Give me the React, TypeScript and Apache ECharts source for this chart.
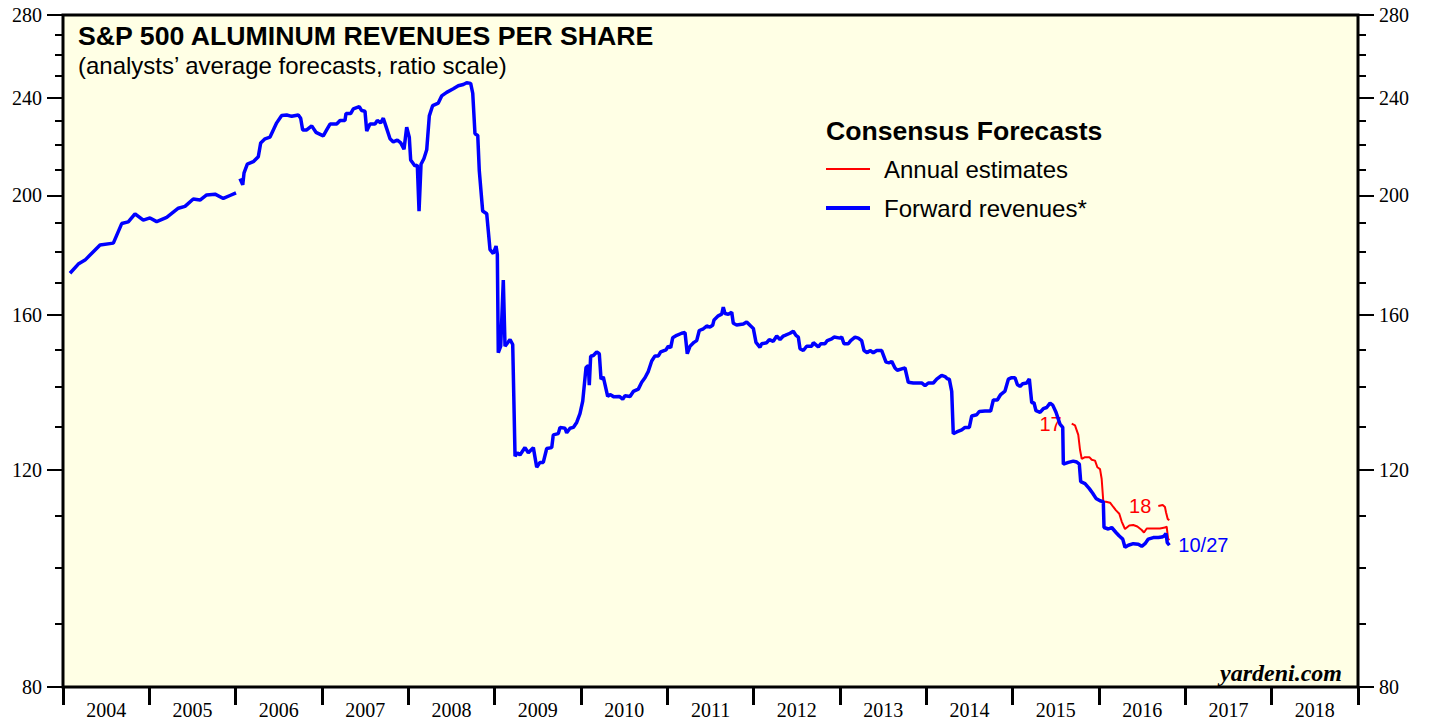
import React, { useEffect, useRef } from "react";
import * as echarts from "echarts";

// ---- axis ticks / labels ----
const YEAR_TICKS = [2004, 2005, 2006, 2007, 2008, 2009, 2010, 2011, 2012, 2013, 2014, 2015, 2016, 2017, 2018, 2019];
const YEAR_LABEL_POS = [2004.5, 2005.5, 2006.5, 2007.5, 2008.5, 2009.5, 2010.5, 2011.5, 2012.5, 2013.5, 2014.5, 2015.5, 2016.5, 2017.5, 2018.5];
const Y_MAJOR = [80, 120, 160, 200, 240, 280];
const Y_MINOR = [90, 100, 110, 130, 140, 150, 170, 180, 190, 210, 220, 230, 250, 260, 270];

// ---- series values: [decimal year, revenues per share] ----
const FORWARD_2004_2005: [number, number][] = [
  [2004.081, 173], [2004.177, 176], [2004.255, 177.3], [2004.429, 182.4], [2004.583, 183], [2004.68, 189.8],
  [2004.756, 190.4], [2004.834, 193.3], [2004.93, 191], [2005.008, 191.8], [2005.085, 190.5], [2005.201, 192],
  [2005.336, 195.3], [2005.413, 196], [2005.509, 198.7], [2005.587, 198.3], [2005.664, 200.2], [2005.761, 200.5],
  [2005.857, 198.9], [2005.934, 200], [2006.004, 201],
];

const FORWARD_2006_2016: [number, number][] = [
  [2006.05, 206.4], [2006.082, 204], [2006.097, 208.6], [2006.135, 212], [2006.204, 213], [2006.262, 215],
  [2006.29, 220.6], [2006.34, 222.3], [2006.398, 223], [2006.436, 226], [2006.475, 229], [2006.533, 232.2],
  [2006.591, 232.4], [2006.649, 231.8], [2006.726, 232.4], [2006.753, 231], [2006.776, 226], [2006.823, 226],
  [2006.881, 227.7], [2006.93, 225], [2007.015, 223.5], [2007.054, 226], [2007.093, 228.5], [2007.17, 228.5],
  [2007.209, 230], [2007.266, 230], [2007.278, 233], [2007.332, 233], [2007.363, 235], [2007.432, 236],
  [2007.46, 234.3], [2007.498, 234], [2007.518, 225.5], [2007.556, 228.5], [2007.614, 228.5], [2007.641, 230],
  [2007.68, 229], [2007.71, 231], [2007.741, 227.5], [2007.788, 222.3], [2007.826, 221], [2007.872, 221.8],
  [2007.912, 220.6], [2007.95, 218], [2007.981, 227.2], [2008.011, 223], [2008.027, 213.7], [2008.077, 211.3],
  [2008.104, 211.7], [2008.124, 194.2], [2008.147, 212], [2008.181, 214.3], [2008.213, 217.8], [2008.243, 232],
  [2008.282, 236.5], [2008.347, 237.6], [2008.386, 240.8], [2008.444, 242.4], [2008.521, 244], [2008.579, 245.4],
  [2008.637, 246], [2008.676, 246.8], [2008.722, 246.5], [2008.746, 242], [2008.772, 224.4], [2008.804, 223.7],
  [2008.822, 209.4], [2008.861, 194.3], [2008.908, 193.3], [2008.946, 180.8], [2008.984, 179.5], [2009.016, 182],
  [2009.031, 179.2], [2009.042, 149.2], [2009.07, 151], [2009.1, 170.8], [2009.12, 151], [2009.178, 152.9],
  [2009.209, 151.5], [2009.236, 123], [2009.262, 123.8], [2009.293, 123.3], [2009.351, 125], [2009.39, 123.8],
  [2009.448, 125], [2009.487, 120.5], [2009.525, 121.6], [2009.563, 121.6], [2009.603, 124.8], [2009.661, 125],
  [2009.679, 128], [2009.737, 128.3], [2009.757, 129.8], [2009.815, 129.6], [2009.834, 128.5], [2009.873, 129.6],
  [2009.911, 129.8], [2009.95, 131], [2009.988, 133.2], [2010.02, 136.3], [2010.058, 145.1], [2010.085, 145.7],
  [2010.096, 140.4], [2010.112, 148.2], [2010.143, 148.4], [2010.182, 149.4], [2010.212, 148.9], [2010.232, 142],
  [2010.258, 142.6], [2010.309, 137.5], [2010.336, 138], [2010.382, 137.4], [2010.444, 137.5], [2010.483, 136.8],
  [2010.51, 137.7], [2010.568, 137.5], [2010.606, 138.8], [2010.664, 139.4], [2010.703, 141.2], [2010.741, 142.4],
  [2010.78, 144.1], [2010.819, 146.9], [2010.857, 148.3], [2010.896, 148.3], [2010.923, 149.4], [2010.985, 150],
  [2011.011, 151], [2011.039, 150.6], [2011.062, 153.4], [2011.109, 154.1], [2011.166, 154.7], [2011.205, 154.9],
  [2011.231, 148.9], [2011.263, 151], [2011.309, 152.1], [2011.34, 152.6], [2011.37, 155.5], [2011.417, 156],
  [2011.456, 156.8], [2011.494, 156.5], [2011.525, 157], [2011.541, 158.6], [2011.59, 159.8], [2011.63, 160.3],
  [2011.648, 162.4], [2011.668, 160.5], [2011.706, 160.3], [2011.746, 160.9], [2011.764, 157.6], [2011.803, 157.1],
  [2011.88, 157.4], [2011.919, 158], [2011.966, 156.8], [2011.996, 156.1], [2012.027, 152.1], [2012.073, 150.7],
  [2012.093, 151.7], [2012.151, 152], [2012.181, 152.9], [2012.227, 152.4], [2012.267, 153.9], [2012.305, 152.9],
  [2012.343, 153.9], [2012.363, 154.1], [2012.421, 154.7], [2012.459, 155.3], [2012.49, 154.1], [2012.517, 153.6],
  [2012.537, 150.3], [2012.575, 149.8], [2012.614, 151], [2012.672, 151], [2012.691, 152], [2012.749, 150.8],
  [2012.777, 151.7], [2012.826, 151.7], [2012.853, 152.6], [2012.904, 153.1], [2012.931, 153.6], [2013.0, 153.3],
  [2013.02, 153.6], [2013.046, 151.7], [2013.096, 151.7], [2013.124, 152.6], [2013.174, 153.6], [2013.212, 153.3],
  [2013.251, 152.6], [2013.278, 149.8], [2013.316, 149.2], [2013.348, 149.8], [2013.386, 149.2], [2013.425, 149.8],
  [2013.483, 149.8], [2013.533, 146.6], [2013.571, 146.4], [2013.599, 146.8], [2013.637, 145], [2013.664, 144.4],
  [2013.733, 144.9], [2013.753, 145], [2013.791, 141.2], [2013.849, 141], [2013.907, 141], [2013.946, 141],
  [2013.985, 140.3], [2014.023, 141], [2014.081, 141], [2014.12, 142], [2014.178, 143], [2014.216, 142.7],
  [2014.243, 142.1], [2014.266, 142], [2014.294, 138.8], [2014.312, 128.3], [2014.352, 128.7], [2014.41, 129.2],
  [2014.448, 129.8], [2014.498, 129.8], [2014.526, 132.6], [2014.583, 132.9], [2014.613, 133.7], [2014.68, 133.8],
  [2014.745, 133.8], [2014.776, 136.6], [2014.822, 136.6], [2014.861, 138], [2014.911, 138.9], [2014.95, 142],
  [2014.989, 142.4], [2015.027, 142.4], [2015.054, 140.6], [2015.085, 140.1], [2015.116, 140.8], [2015.163, 141],
  [2015.193, 142.1], [2015.221, 135.9], [2015.247, 135.9], [2015.27, 133.9], [2015.317, 133.5], [2015.355, 134.4],
  [2015.394, 134.7], [2015.433, 135.8], [2015.464, 135.3], [2015.502, 133.5], [2015.548, 130.6], [2015.58, 129.8],
  [2015.587, 121.2], [2015.645, 121.6], [2015.702, 121.9], [2015.742, 121.7], [2015.772, 121.2], [2015.788, 117.3],
  [2015.838, 116.9], [2015.888, 115.8], [2015.927, 114.8], [2015.965, 113.7], [2016.012, 113.2], [2016.05, 113],
  [2016.058, 107.7], [2016.108, 107.4], [2016.147, 107.7], [2016.197, 106.7], [2016.235, 106], [2016.275, 105.4],
  [2016.301, 103.8], [2016.34, 104.2], [2016.397, 104.5], [2016.455, 104.4], [2016.495, 104], [2016.533, 104.5],
  [2016.571, 105.4], [2016.629, 105.7], [2016.687, 105.7], [2016.726, 105.8], [2016.753, 106], [2016.776, 106.5],
  [2016.791, 104.7], [2016.815, 104.2],
];

const ANNUAL_2017: [number, number][] = [
  [2015.684, 130.7], [2015.722, 130.3], [2015.76, 128], [2015.78, 124.5], [2015.8, 122.4], [2015.838, 122.8],
  [2015.888, 122.8], [2015.916, 122.2], [2015.954, 122], [2015.981, 120.5], [2016.012, 120.1], [2016.031, 117.9],
  [2016.05, 113], [2016.081, 113], [2016.128, 112.8], [2016.166, 111.9], [2016.197, 111.2], [2016.235, 110.5],
  [2016.263, 108.9], [2016.301, 107.4], [2016.351, 108.1], [2016.397, 108.2], [2016.444, 107.9], [2016.495, 107.2],
  [2016.521, 106.7], [2016.553, 107.5], [2016.629, 107.5], [2016.706, 107.5], [2016.764, 107.7], [2016.784, 107.9],
  [2016.8, 105.5], [2016.815, 105.2],
];

const ANNUAL_2018: [number, number][] = [
  [2016.687, 112.1], [2016.738, 112.3], [2016.764, 111.9], [2016.776, 110.8], [2016.796, 109.4], [2016.815, 109.2],
];

const SANS = '"Liberation Sans", Arial, Helvetica, sans-serif';
const SERIF = '"Liberation Serif", "Times New Roman", serif';
const RED = "#ff0000";
const BLUE = "#0000ff";

function labeledFirst(points: [number, number][], text: string, distance: number) {
  return points.map((p, i) =>
    i === 0
      ? {
          value: p,
          label: {
            show: true,
            position: "left",
            distance,
            formatter: text,
            color: RED,
            fontSize: 20,
            fontFamily: SANS,
          },
        }
      : { value: p }
  );
}

export default function App() {
  const ref = useRef<HTMLDivElement>(null);

  useEffect(() => {
    if (!ref.current) return;
    const chart = echarts.init(ref.current, undefined, { renderer: "svg" });

    const majorY = (position: "left" | "right") => ({
      type: "log",
      logBase: 10,
      min: 80,
      max: 280,
      position,
      axisLine: { show: false },
      splitLine: { show: false },
      axisTick: { show: true, customValues: Y_MAJOR, length: 16, lineStyle: { color: "#000", width: 2 } },
      axisLabel: {
        show: true,
        customValues: Y_MAJOR,
        margin: 21,
        color: "#000",
        fontSize: 20,
        fontFamily: SERIF,
      },
    });
    const minorY = (position: "left" | "right") => ({
      type: "log",
      logBase: 10,
      min: 80,
      max: 280,
      position,
      axisLine: { show: false },
      splitLine: { show: false },
      axisTick: { show: true, customValues: Y_MINOR, length: 8, lineStyle: { color: "#000", width: 2 } },
      axisLabel: { show: false },
    });

    const forwardData: any[] = [...FORWARD_2004_2005, [2006.027, null], ...FORWARD_2006_2016];

    const option: any = {
      animation: false,
      backgroundColor: "#ffffff",
      grid: {
        left: 63,
        right: 71,
        top: 15,
        bottom: 34,
        show: true,
        backgroundColor: "#ffffe5",
        borderColor: "#000",
        borderWidth: 3,
        containLabel: false,
      },
      xAxis: {
        type: "value",
        min: 2004,
        max: 2019,
        axisLine: { show: false },
        splitLine: { show: false },
        axisTick: { show: true, customValues: YEAR_TICKS, length: 18, lineStyle: { color: "#000", width: 3 } },
        axisLabel: {
          show: true,
          customValues: YEAR_LABEL_POS,
          formatter: (v: number) => String(Math.floor(v)),
          margin: 13,
          color: "#000",
          fontSize: 20,
          fontFamily: SERIF,
        },
      },
      yAxis: [majorY("left"), minorY("left"), majorY("right"), minorY("right")],
      series: [
        {
          name: "Annual estimates 2017",
          type: "line",
          data: labeledFirst(ANNUAL_2017, "17", 10),
          showSymbol: true,
          symbol: "circle",
          symbolSize: 0,
          lineStyle: { color: RED, width: 2 },
          itemStyle: { color: RED },
          label: { show: false },
          z: 3,
        },
        {
          name: "Annual estimates 2018",
          type: "line",
          data: labeledFirst(ANNUAL_2018, "18", 7),
          showSymbol: true,
          symbol: "circle",
          symbolSize: 0,
          lineStyle: { color: RED, width: 2 },
          itemStyle: { color: RED },
          label: { show: false },
          z: 3,
        },
        {
          name: "Forward revenues",
          type: "line",
          data: forwardData,
          showSymbol: false,
          connectNulls: false,
          lineStyle: { color: BLUE, width: 3.5 },
          itemStyle: { color: BLUE },
          endLabel: {
            show: true,
            formatter: "10/27",
            color: BLUE,
            fontSize: 20,
            fontFamily: SANS,
            distance: 9,
          },
          z: 4,
        },
      ],
      graphic: [
        {
          type: "text",
          x: 78,
          y: 36,
          style: {
            text: "S&P 500 ALUMINUM REVENUES PER SHARE",
            fill: "#000",
            fontSize: 26.7,
            fontWeight: "bold",
            fontFamily: SANS,
            textVerticalAlign: "middle",
            verticalAlign: "middle",
          },
        },
        {
          type: "text",
          x: 78,
          y: 65,
          style: {
            text: "(analysts\u2019 average forecasts, ratio scale)",
            fill: "#000",
            fontSize: 24,
            fontFamily: SANS,
            textVerticalAlign: "middle",
            verticalAlign: "middle",
          },
        },
        {
          type: "text",
          x: 826,
          y: 131,
          style: {
            text: "Consensus Forecasts",
            fill: "#000",
            fontSize: 26.6,
            fontWeight: "bold",
            fontFamily: SANS,
            textVerticalAlign: "middle",
            verticalAlign: "middle",
          },
        },
        {
          type: "line",
          shape: { x1: 826, y1: 169, x2: 870, y2: 169 },
          style: { stroke: RED, lineWidth: 2 },
        },
        {
          type: "text",
          x: 884,
          y: 169,
          style: {
            text: "Annual estimates",
            fill: "#000",
            fontSize: 24,
            fontFamily: SANS,
            textVerticalAlign: "middle",
            verticalAlign: "middle",
          },
        },
        {
          type: "line",
          shape: { x1: 826, y1: 208, x2: 870, y2: 208 },
          style: { stroke: BLUE, lineWidth: 4 },
        },
        {
          type: "text",
          x: 884,
          y: 208,
          style: {
            text: "Forward revenues*",
            fill: "#000",
            fontSize: 24,
            fontFamily: SANS,
            textVerticalAlign: "middle",
            verticalAlign: "middle",
          },
        },
        {
          type: "text",
          x: 1342,
          y: 673,
          style: {
            text: "yardeni.com",
            fill: "#000",
            fontSize: 24,
            fontWeight: "bold",
            fontStyle: "italic",
            fontFamily: SERIF,
            textAlign: "right",
            align: "right",
            textVerticalAlign: "middle",
            verticalAlign: "middle",
          },
        },
      ],
    };

    chart.setOption(option);
    return () => chart.dispose();
  }, []);

  return (
    <div
      ref={ref}
      style={{ position: "fixed", left: 0, top: 0, width: 1429, height: 721 }}
    />
  );
}
